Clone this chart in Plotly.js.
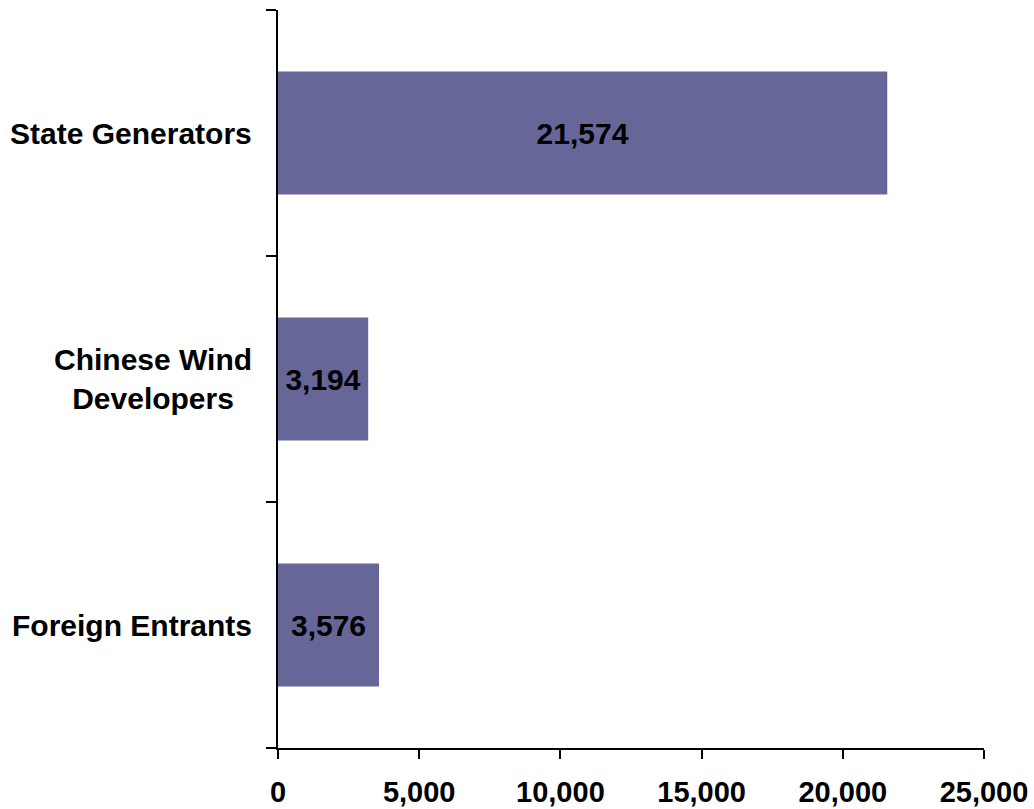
<!DOCTYPE html>
<html>
<head>
<meta charset="utf-8">
<script src="https://cdn.plot.ly/plotly-3.0.1.min.js"></script>
<style>html,body{margin:0;padding:0;background:#fff;}</style>
</head>
<body>
<div id="chart" style="width:1034px;height:809px;"></div>
<script>
const categories = ["Foreign Entrants", "Chinese Wind<br>Developers", "State Generators"];
const values = [3576, 3194, 21574];
const xTickVals = [0, 5000, 10000, 15000, 20000, 25000];

const FONT = "Liberation Sans, Arial, sans-serif";

const trace = {
  type: "bar",
  orientation: "h",
  x: values,
  y: categories,
  marker: {color: "#666699", line: {width: 0}},
  texttemplate: "%{x:,}",
  textposition: "inside",
  insidetextanchor: "middle",
  textangle: 0,
  constraintext: "none",
  insidetextfont: {family: FONT, size: 30, color: "#000000", weight: "bold"},
  hoverinfo: "none"
};

const annotations = categories.map(c => ({
  x: 0, xref: "paper", xanchor: "right",
  y: c, yref: "y", yanchor: "middle",
  xshift: -24,
  text: "<b>" + c + "</b>",
  showarrow: false,
  align: "center",
  font: {family: FONT, size: 30, color: "#000000"}
}));

const layout = {
  width: 1034, height: 809,
  margin: {l: 278, r: 50, t: 10, b: 61, pad: 0},
  paper_bgcolor: "#ffffff",
  plot_bgcolor: "#ffffff",
  showlegend: false,
  bargap: 0.5,
  font: {family: FONT, color: "#000000"},
  xaxis: {
    range: [0, 25000],
    tickvals: xTickVals,
    tickformat: ",",
    ticks: "outside",
    ticklen: 9,
    tickwidth: 2,
    tickcolor: "#000000",
    showline: true,
    linecolor: "#000000",
    linewidth: 2,
    showgrid: false,
    zeroline: false,
    tickfont: {family: FONT, size: 29, color: "#000000", weight: "bold"},
    ticklabelstandoff: 8
  },
  yaxis: {
    type: "category",
    range: [-0.5, 2.5],
    tickson: "boundaries",
    ticks: "outside",
    ticklen: 10,
    tickwidth: 2,
    tickcolor: "#000000",
    showline: true,
    linecolor: "#000000",
    linewidth: 2,
    showgrid: false,
    zeroline: false,
    showticklabels: false
  },
  annotations: annotations
};

Plotly.newPlot("chart", [trace], layout, {displayModeBar: false, staticPlot: true});
</script>
</body>
</html>
